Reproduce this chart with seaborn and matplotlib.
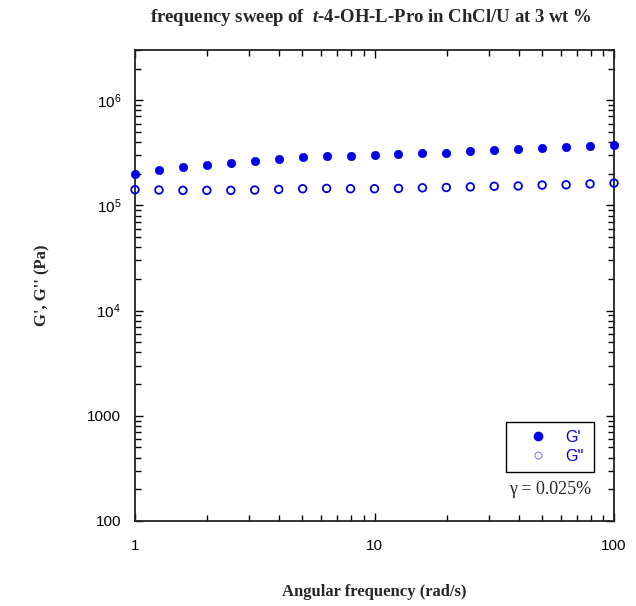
import numpy as np
import pandas as pd
import matplotlib
matplotlib.use("Agg")
import matplotlib.pyplot as plt
import seaborn as sns
from matplotlib.ticker import FixedLocator, LogLocator, NullFormatter
from matplotlib.lines import Line2D

# ---- data ----
freq = [1.0, 1.259, 1.585, 1.995, 2.512, 3.162, 3.981, 5.012, 6.310, 7.943,
        10.0, 12.59, 15.85, 19.95, 25.12, 31.62, 39.81, 50.12, 63.10, 79.43, 100.0]
g_storage = [1.98e5, 2.15e5, 2.30e5, 2.43e5, 2.54e5, 2.65e5, 2.77e5, 2.89e5, 2.94e5, 2.96e5,
             3.00e5, 3.09e5, 3.14e5, 3.18e5, 3.26e5, 3.33e5, 3.40e5, 3.48e5, 3.57e5, 3.68e5, 3.79e5]
g_loss = [1.41e5, 1.40e5, 1.39e5, 1.39e5, 1.39e5, 1.40e5, 1.42e5, 1.44e5, 1.45e5, 1.44e5,
          1.44e5, 1.45e5, 1.47e5, 1.48e5, 1.50e5, 1.52e5, 1.53e5, 1.56e5, 1.57e5, 1.60e5, 1.63e5]
ytick_vals = [100, 1000, 1e4, 1e5, 1e6]
ytick_labels = ["100", "1000", r"$\mathsf{10^{4}}$", r"$\mathsf{10^{5}}$", r"$\mathsf{10^{6}}$"]
xtick_vals = [1, 10, 100]
xtick_labels = ["1", "10", "100"]

sns.set_style("ticks")
plt.rcParams["font.family"] = ["Liberation Sans", "DejaVu Sans"]
plt.rcParams["mathtext.fontset"] = "custom"
plt.rcParams["mathtext.rm"] = "Liberation Serif:bold"
plt.rcParams["mathtext.it"] = "Liberation Serif:italic:bold"
plt.rcParams["mathtext.sf"] = "Liberation Sans"

blue = "#0000E6"
df = pd.DataFrame({"freq": freq, "gp": g_storage, "gpp": g_loss})

fig = plt.figure(figsize=(6.36, 6.06), dpi=100)
ax = fig.add_axes([135/636, 1-521/606, 479/636, 471/606])

sns.scatterplot(data=df, x="freq", y="gp", ax=ax, color=blue, s=36,
                edgecolor=blue, linewidth=0.5, zorder=3, clip_on=False)
sns.scatterplot(data=df, x="freq", y="gpp", ax=ax, facecolors="none",
                edgecolor=blue, linewidth=1.3, s=30, zorder=3, clip_on=False)

ax.set_xscale("log")
ax.set_yscale("log")
ax.set_xlim(1, 100)
ax.set_ylim(100, 3e6)

ax.yaxis.set_major_locator(FixedLocator(ytick_vals))
ax.set_yticklabels(ytick_labels)
ax.yaxis.set_minor_locator(LogLocator(base=10, subs=np.arange(2, 10)))
ax.yaxis.set_minor_formatter(NullFormatter())
ax.xaxis.set_major_locator(FixedLocator(xtick_vals))
ax.set_xticklabels(xtick_labels)
ax.xaxis.set_minor_locator(LogLocator(base=10, subs=np.arange(2, 10)))
ax.xaxis.set_minor_formatter(NullFormatter())

ax.tick_params(which="both", direction="in", top=True, right=True, width=1.0,
               colors="black", labelsize=11)
ax.tick_params(which="major", length=6)
ax.tick_params(which="minor", length=4)
ax.tick_params(axis="x", which="major", pad=13)
ax.tick_params(axis="y", which="major", pad=10)
for sp in ax.spines.values():
    sp.set_linewidth(1.3)
    sp.set_color("#222222")

ax.set_xlabel("Angular frequency (rad/s)", fontfamily="Liberation Serif",
              fontweight="bold", fontsize=12)
ax.set_ylabel("G', G'' (Pa)", fontfamily="Liberation Serif",
              fontweight="bold", fontsize=12)
ax.xaxis.set_label_coords(0.5, -0.133)
ax.yaxis.set_label_coords(-0.176, 0.5)

fig.text(371/636, 1-18/606,
         r"frequency sweep of  $\mathit{t}$-4-OH-L-Pro in ChCl/U at 3 wt %",
         ha="center", va="center", fontfamily="Liberation Serif",
         fontweight="bold", fontsize=13.5)

handles = [
    Line2D([], [], linestyle="", marker="o", markersize=6, color=blue, markeredgecolor=blue),
    Line2D([], [], linestyle="", marker="o", markersize=5, markerfacecolor="none",
           markeredgecolor="#8080F0", markeredgewidth=0.8),
]
leg = ax.legend(handles, ["G'", "G''"], loc="lower left",
                bbox_to_anchor=(0.775, 0.104, 0.183, 0.106), mode="expand",
                frameon=True, fancybox=False, edgecolor="black", framealpha=1,
                fontsize=11.5, handletextpad=0.2, borderpad=0.5, labelspacing=0.25,
                handlelength=3.0, borderaxespad=0)
leg.get_frame().set_linewidth(1.0)
for t in leg.get_texts():
    t.set_color(blue)

ax.text(0.866, 0.066, "\u03b3 = 0.025%", transform=ax.transAxes, ha="center",
        va="center", fontfamily="Liberation Serif", fontsize=13)

fig.savefig("out.png", dpi=100)
